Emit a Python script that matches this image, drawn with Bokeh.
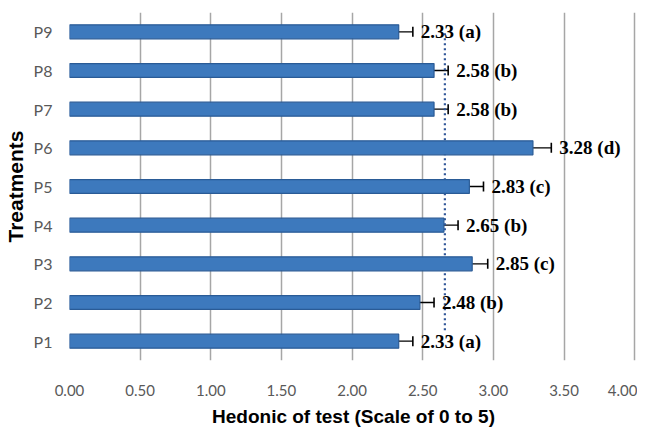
from bokeh.plotting import figure
from bokeh.models import (ColumnDataSource, Whisker, TeeHead, FixedTicker, Range1d,
                          NumeralTickFormatter)
from bokeh.embed import file_html
from bokeh.resources import INLINE
from bokeh.core.properties import value

# ---- data ----
treatments = ["P1", "P2", "P3", "P4", "P5", "P6", "P7", "P8", "P9"]
means = [2.33, 2.48, 2.85, 2.65, 2.83, 3.28, 2.58, 2.58, 2.33]
errors = [0.10, 0.10, 0.11, 0.10, 0.10, 0.13, 0.10, 0.10, 0.10]
letters = ["a", "b", "c", "b", "c", "d", "b", "b", "a"]
x_ticks = [0.0, 0.5, 1.0, 1.5, 2.0, 2.5, 3.0, 3.5, 4.0]

ypos = list(range(1, len(treatments) + 1))
labels = [f"{m:.2f} ({l})" for m, l in zip(means, letters)]
grand_mean = sum(means) / len(means)

src = ColumnDataSource(dict(
    y=ypos, m=means,
    lo=[m - e for m, e in zip(means, errors)],
    hi=[m + e for m, e in zip(means, errors)],
    lab=labels,
))

p = figure(width=637, height=429, output_backend="svg", toolbar_location=None,
           x_range=Range1d(0, 4.02), y_range=Range1d(0.5, 9.5),
           min_border_left=61, min_border_right=0, min_border_top=12,
           min_border_bottom=66)
p.outline_line_color = None
p.background_fill_color = "white"

# grid
p.xgrid.ticker = FixedTicker(ticks=x_ticks)
p.xgrid.grid_line_color = "#a6a6a6"
p.xgrid.grid_line_width = 1.5
p.ygrid.grid_line_color = None

# mean line
p.segment(x0=[grand_mean], x1=[grand_mean], y0=[1.28], y1=[9.0],
          line_color="#2F5597", line_width=2.2, line_dash="2 3")

# bars
p.hbar(y="y", right="m", left=0, height=0.36, source=src,
       fill_color="#3D79BD", line_color="#2A5B96", line_width=1.2)

# error bars
w = Whisker(source=src, base="y", lower="lo", upper="hi", dimension="width",
            line_color="black", line_width=1.4,
            lower_head=TeeHead(size=10, line_color="black", line_width=1.6),
            upper_head=TeeHead(size=10, line_color="black", line_width=1.6))
p.add_layout(w)

# value labels
p.text(x="hi", y="y", text="lab", source=src, x_offset=8,
       text_font=value("Liberation Serif"), text_font_style="bold",
       text_font_size="19px", text_color="black",
       text_baseline="middle", text_align="left")

# x axis
xa = p.xaxis[0]
xa.ticker = FixedTicker(ticks=x_ticks)
xa.formatter = NumeralTickFormatter(format="0.00")
xa.axis_line_color = None
xa.major_tick_line_color = None
xa.major_tick_out = 0
xa.major_tick_in = 0
xa.minor_tick_line_color = None
xa.minor_tick_out = 0
xa.major_label_standoff = 24
xa.major_label_text_font = "Lato"
xa.major_label_text_font_size = "15px"
xa.major_label_text_color = "#595959"
xa.axis_label = "Hedonic of test (Scale of 0 to 5)"
xa.axis_label_text_font = "Liberation Sans"
xa.axis_label_text_font_style = "bold"
xa.axis_label_text_font_size = "19px"
xa.axis_label_text_color = "black"
xa.axis_label_standoff = 7

# y axis
ya = p.yaxis[0]
ya.ticker = FixedTicker(ticks=ypos)
ya.major_label_overrides = {y: t for y, t in zip(ypos, treatments)}
ya.axis_line_color = None
ya.major_tick_line_color = None
ya.major_tick_out = 0
ya.major_tick_in = 0
ya.minor_tick_line_color = None
ya.minor_tick_out = 0
ya.major_label_standoff = 17
ya.major_label_text_font = "Lato"
ya.major_label_text_font_size = "16px"
ya.major_label_text_color = "#595959"
ya.axis_label = "Treatments"
ya.axis_label_text_font = "Liberation Sans"
ya.axis_label_text_font_style = "bold"
ya.axis_label_text_font_size = "21px"
ya.axis_label_text_color = "black"
ya.axis_label_standoff = 4

open("out.html", "w").write(file_html(p, INLINE))
